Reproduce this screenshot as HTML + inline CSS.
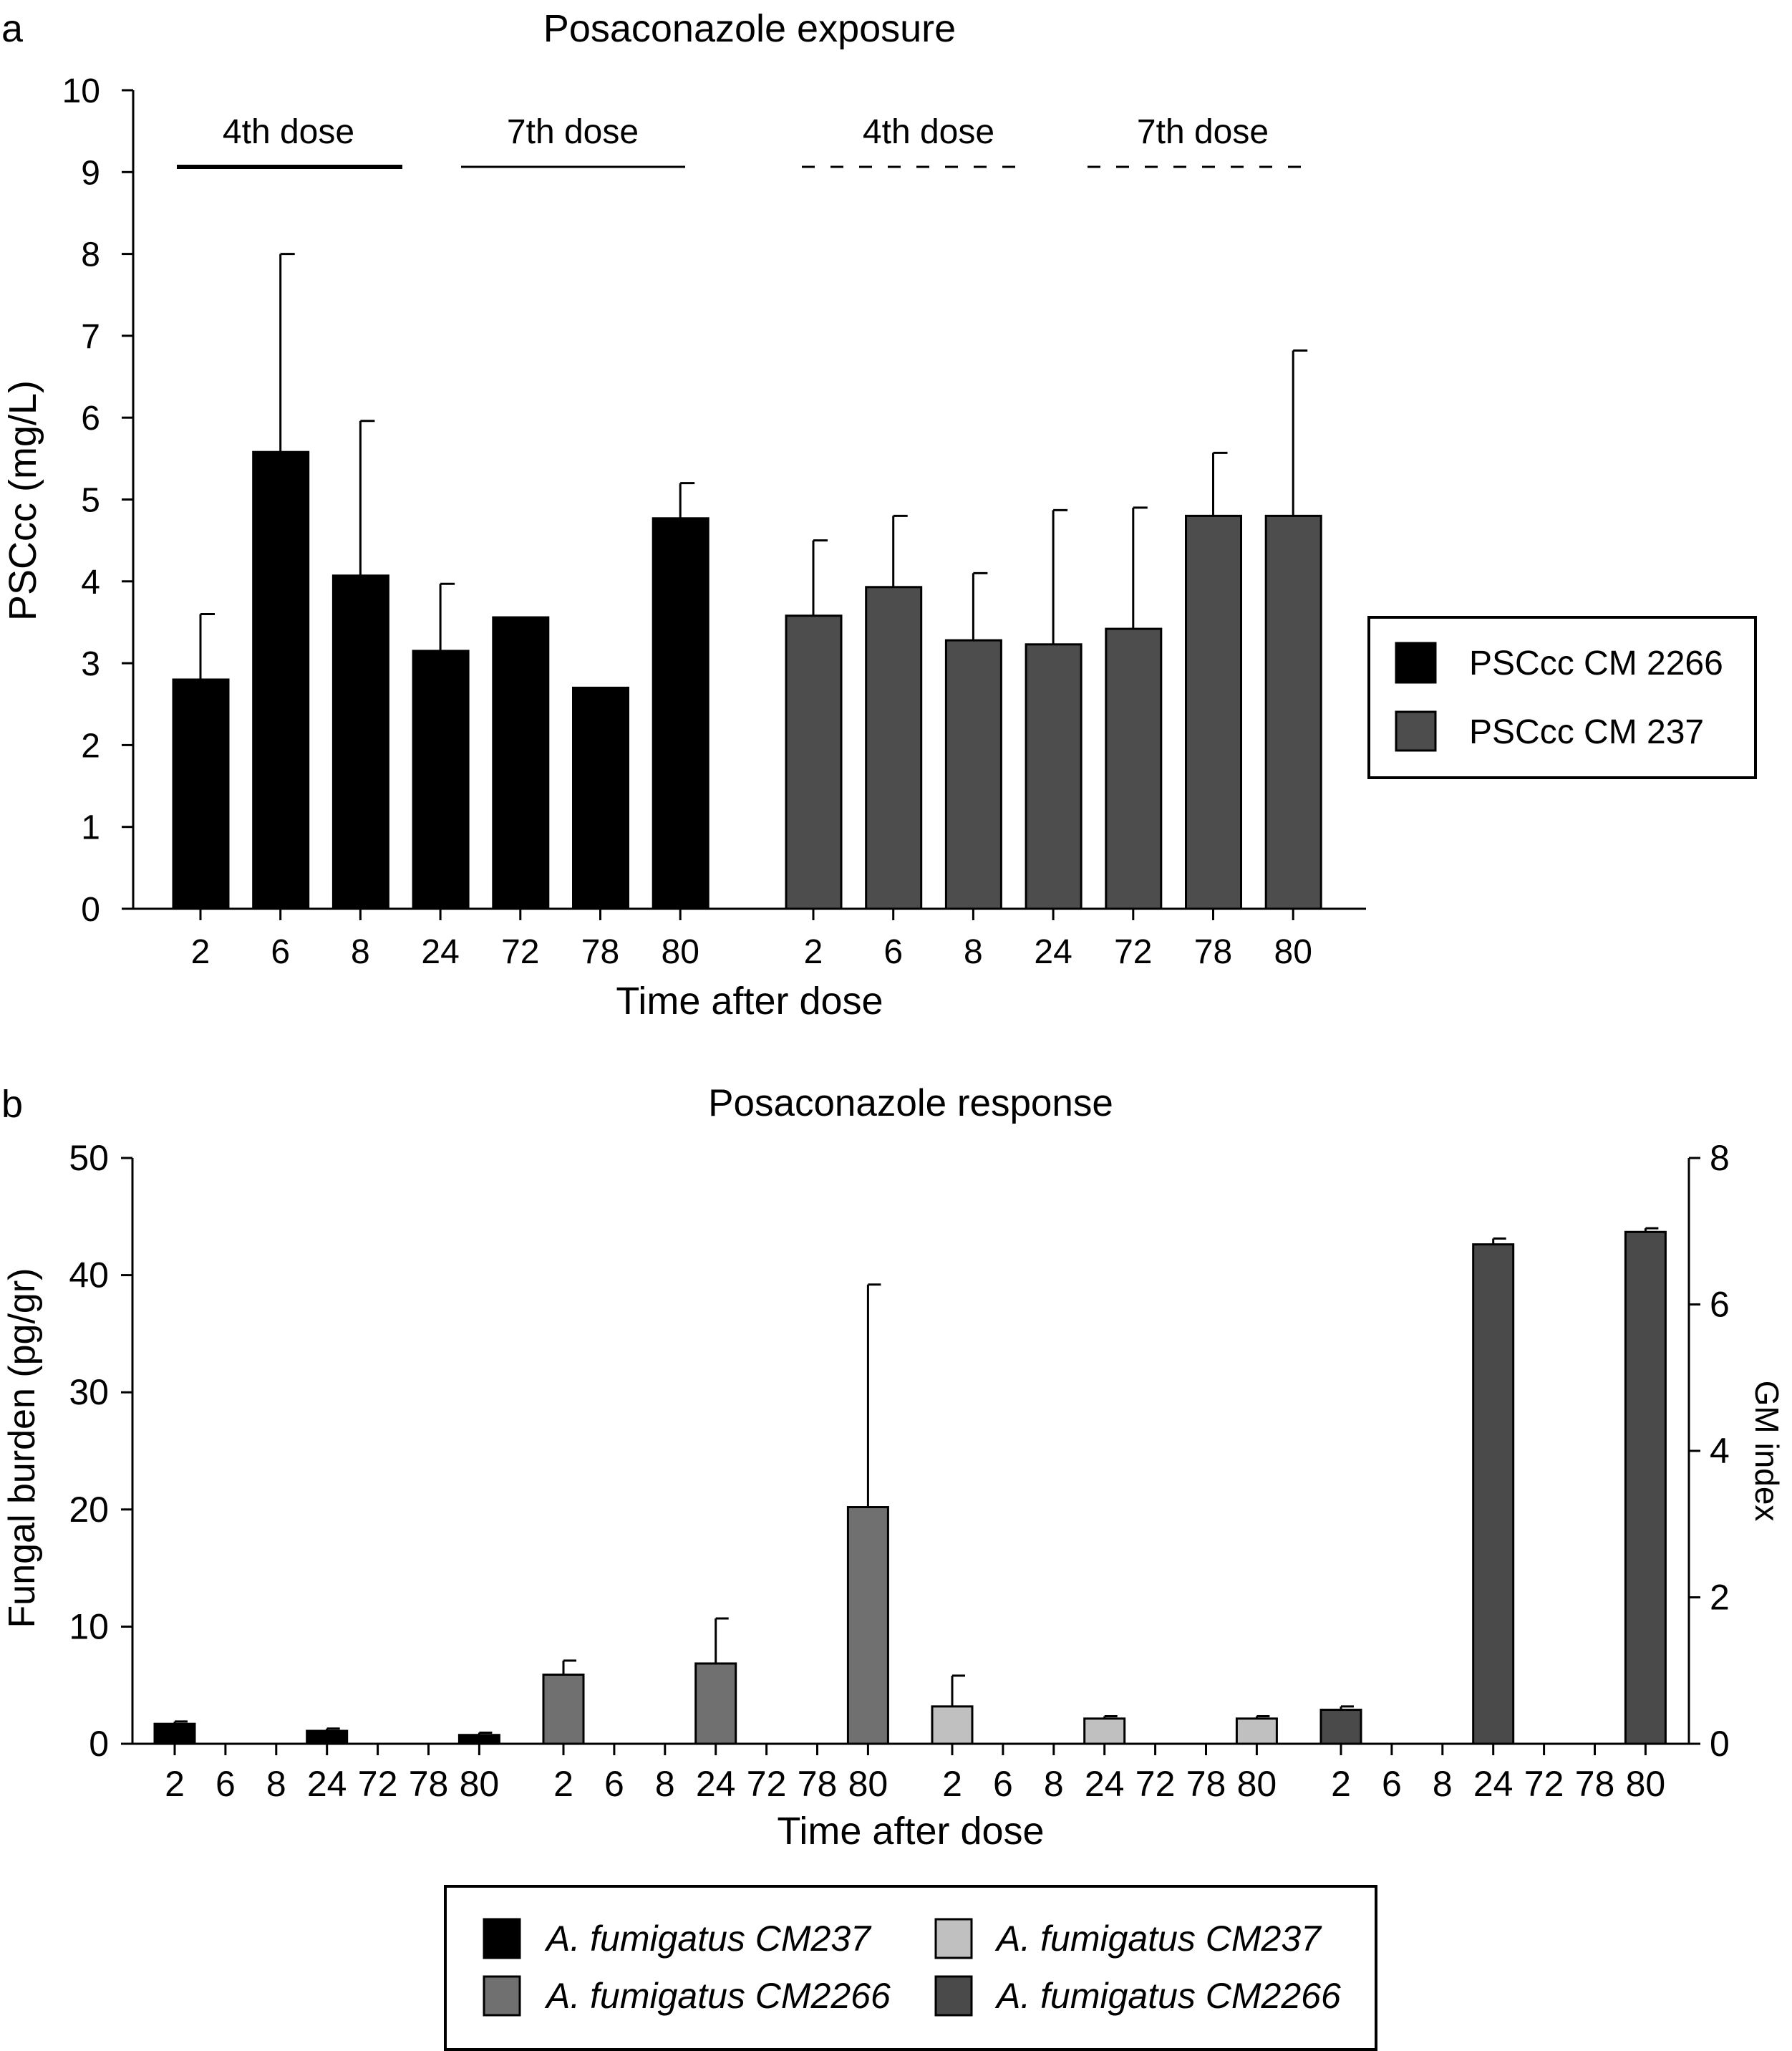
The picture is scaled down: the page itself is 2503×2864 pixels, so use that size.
<!DOCTYPE html>
<html><head><meta charset="utf-8"><style>
html,body{margin:0;padding:0;background:#fff}
svg{display:block}
text{font-family:"Liberation Sans",sans-serif;fill:#000}
.n{font-family:"Liberation Sans Narrow","Liberation Sans",sans-serif}
</style></head><body>
<svg id="s" width="2503" height="2864" viewBox="0 0 2503 2864" xmlns="http://www.w3.org/2000/svg">
<text x="2" y="58" font-size="54">a</text>
<text x="1047" y="58" font-size="54" text-anchor="middle">Posaconazole exposure</text>
<text x="0" y="0" font-size="54" text-anchor="middle" transform="translate(50,699) rotate(-90)">PSCcc (mg/L)</text>
<text x="1047" y="1416" font-size="54" text-anchor="middle">Time after dose</text>
<g id="ga"></g>
<text x="2" y="1560" font-size="54">b</text>
<text x="1272" y="1558" font-size="53" text-anchor="middle" class="n">Posaconazole response</text>
<text x="0" y="0" font-size="52" text-anchor="middle" transform="translate(48,2022) rotate(-90)">Fungal burden (pg/gr)</text>
<text x="0" y="0" font-size="46" text-anchor="middle" transform="translate(2452,2026) rotate(90)">GM index</text>
<text x="1272" y="2575" font-size="54" text-anchor="middle" class="n">Time after dose</text>
<g id="gb"></g>
<rect x="1912" y="862" width="540" height="224" fill="none" stroke="#000" stroke-width="4"/>
<rect x="1950" y="898" width="55" height="55" fill="#000" stroke="#000" stroke-width="3"/>
<text x="2052" y="942" font-size="48">PSCcc CM 2266</text>
<rect x="1950" y="994" width="55" height="54" fill="#4d4d4d" stroke="#000" stroke-width="3"/>
<text x="2052" y="1038" font-size="48">PSCcc CM 237</text>
<rect x="622" y="2634" width="1300" height="228" fill="none" stroke="#000" stroke-width="4"/>
<rect x="676" y="2680" width="50" height="54" fill="#000" stroke="#000" stroke-width="3"/>
<text x="763" y="2724" font-size="50" font-style="italic" class="n">A. fumigatus CM237</text>
<rect x="1307" y="2680" width="50" height="54" fill="#c0c0c0" stroke="#000" stroke-width="3"/>
<text x="1392" y="2724" font-size="50" font-style="italic" class="n">A. fumigatus CM237</text>
<rect x="676" y="2760" width="50" height="54" fill="#707070" stroke="#000" stroke-width="3"/>
<text x="763" y="2804" font-size="50" font-style="italic" class="n">A. fumigatus CM2266</text>
<rect x="1307" y="2760" width="50" height="54" fill="#4a4a4a" stroke="#000" stroke-width="3"/>
<text x="1392" y="2804" font-size="50" font-style="italic" class="n">A. fumigatus CM2266</text>
</svg>
<script>
const timeLabels=["2","6","8","24","72","78","80"];
const aCM2266=[2.8,5.58,4.07,3.15,3.56,2.7,4.77];
const aCM2266Err=[3.6,8.0,5.96,3.97,null,null,5.2];
const aCM237=[3.58,3.93,3.28,3.23,3.42,4.8,4.8];
const aCM237Err=[4.5,4.8,4.1,4.87,4.9,5.57,6.82];
const aTicks=[0,1,2,3,4,5,6,7,8,9,10];
const bG1=[1.7,null,null,1.1,null,null,0.75];
const bG1Err=[1.9,null,null,1.3,null,null,0.95];
const bG2=[5.9,null,null,6.85,null,null,20.2];
const bG2Err=[7.1,null,null,10.7,null,null,39.2];
const bG3=[0.51,null,null,0.344,null,null,0.344];
const bG3Err=[0.93,null,null,0.376,null,null,0.376];
const bG4=[0.464,null,null,6.82,null,null,6.99];
const bG4Err=[0.51,null,null,6.9,null,null,7.04];
const bLeftTicks=[0,10,20,30,40,50];
const bRightTicks=[0,2,4,6,8];
const NS="http://www.w3.org/2000/svg";
function mk(p,t,a){const e=document.createElementNS(NS,t);for(const k in a)e.setAttribute(k,a[k]);p.appendChild(e);return e;}
// panel a
const ga=document.getElementById('ga');
const ya=v=>1269-v*114.3;
const xa=(g,i)=>280+g*856+i*111.7;
mk(ga,'line',{x1:186,y1:ya(0),x2:1908,y2:ya(0),stroke:'#000','stroke-width':3});
mk(ga,'line',{x1:186,y1:ya(0),x2:186,y2:ya(10),stroke:'#000','stroke-width':3});
aTicks.forEach(t=>{
 const l=mk(ga,'line',{x1:170,y1:ya(t),x2:186,y2:ya(t),stroke:'#000','stroke-width':3});
 
 
 const tx=mk(ga,'text',{x:140,y:ya(t)+17,'font-size':48,'text-anchor':'end'});tx.textContent=t;
 
 
});
[[aCM2266,aCM2266Err,'#000'],[aCM237,aCM237Err,'#4d4d4d']].forEach((s,g)=>{
 s[0].forEach((v,i)=>{
  const x=xa(g,i);
  if(s[1][i]!=null){const e=mk(ga,'line',{x1:x,y1:ya(v),x2:x,y2:ya(s[1][i]),stroke:'#000','stroke-width':3});
   
   
   mk(ga,'line',{x1:x,y1:ya(s[1][i]),x2:x+20,y2:ya(s[1][i]),stroke:'#000','stroke-width':3});}
  const r=mk(ga,'rect',{x:x-38,y:ya(v),width:77,height:ya(0)-ya(v),fill:s[2],stroke:'#000','stroke-width':3});
  
  
  mk(ga,'line',{x1:x,y1:ya(0),x2:x,y2:ya(0)+16,stroke:'#000','stroke-width':3});
  const tx=mk(ga,'text',{x:x,y:1345,'font-size':48,'text-anchor':'middle'});tx.textContent=timeLabels[i];
  
  
 });
});
[[247,562,6,'',403,'4th dose'],[644,957,3,'',800,'7th dose'],[1120,1436,3,'18 22',1297,'4th dose'],[1519,1833,3,'18 22',1680,'7th dose']].forEach(d=>{
 const l=mk(ga,'line',{x1:d[0],y1:233,x2:d[1],y2:233,stroke:'#000','stroke-width':d[2]});
 if(d[3])l.setAttribute('stroke-dasharray',d[3]);
 
 
 const t=mk(ga,'text',{x:d[4],y:200,'font-size':48,'text-anchor':'middle'});t.textContent=d[5];
 
 
});
// panel b
const gb=document.getElementById('gb');
const yl=v=>2435-v*16.36;
const yr=v=>2435-v*102.25;
const xb=(g,i)=>244+g*543+i*70.9;
mk(gb,'line',{x1:185,y1:2435,x2:2359,y2:2435,stroke:'#000','stroke-width':3});
mk(gb,'line',{x1:185,y1:2435,x2:185,y2:1617,stroke:'#000','stroke-width':3});
mk(gb,'line',{x1:2359,y1:2435,x2:2359,y2:1617,stroke:'#000','stroke-width':3});
bLeftTicks.forEach(t=>{
 mk(gb,'line',{x1:169,y1:yl(t),x2:185,y2:yl(t),stroke:'#000','stroke-width':3});
 const tx=mk(gb,'text',{x:152,y:yl(t)+17,'font-size':50,'text-anchor':'end',class:'n'});tx.textContent=t;
 
 
});
bRightTicks.forEach(t=>{
 mk(gb,'line',{x1:2359,y1:yr(t),x2:2375,y2:yr(t),stroke:'#000','stroke-width':3});
 const tx=mk(gb,'text',{x:2388,y:yr(t)+17,'font-size':50,class:'n'});tx.textContent=t;
 
 
});
[[bG1,bG1Err,'#000',yl],[bG2,bG2Err,'#707070',yl],[bG3,bG3Err,'#c0c0c0',yr],[bG4,bG4Err,'#4a4a4a',yr]].forEach((s,g)=>{
 s[0].forEach((v,i)=>{
  const x=xb(g,i),f=s[3];
  if(v!=null){
   const e=mk(gb,'line',{x1:x,y1:f(v),x2:x,y2:f(s[1][i]),stroke:'#000','stroke-width':3});
   
   
   mk(gb,'line',{x1:x,y1:f(s[1][i]),x2:x+18,y2:f(s[1][i]),stroke:'#000','stroke-width':3});
   const r=mk(gb,'rect',{x:x-28,y:f(v),width:56,height:2435-f(v),fill:s[2],stroke:'#000','stroke-width':3});
   
   
  }
  mk(gb,'line',{x1:x,y1:2435,x2:x,y2:2451,stroke:'#000','stroke-width':3});
  const tx=mk(gb,'text',{x:x,y:2508,'font-size':50,'text-anchor':'middle',class:'n'});tx.textContent=timeLabels[i];
  
  
 });
});
</script>
</body></html>
